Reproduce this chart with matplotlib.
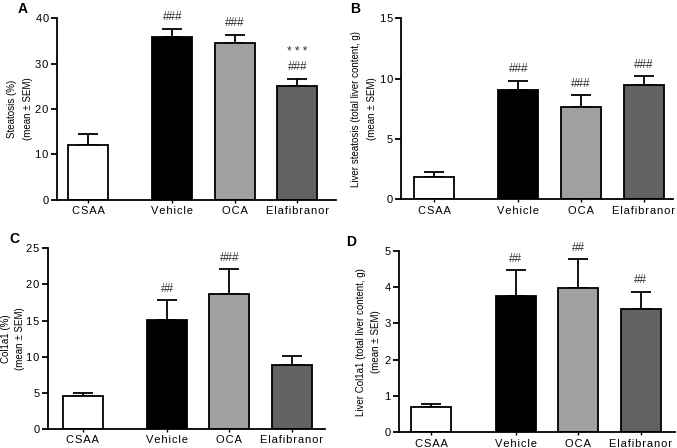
import matplotlib
matplotlib.use("Agg")
import matplotlib.pyplot as plt

plt.rcParams["font.family"] = ["Liberation Sans", "DejaVu Sans"]

groups = ["CSAA", "Vehicle", "OCA", "Elafibranor"]
colors = ["#ffffff", "#000000", "#a0a0a0", "#626262"]

steatosis_pct = [12.0, 35.9, 34.4, 25.0]
steatosis_pct_sem = [2.4, 1.7, 1.9, 1.7]
steatosis_pct_marks = ["", "###", "###", "* * *\n###"]

steatosis_g = [1.87, 9.06, 7.67, 9.47]
steatosis_g_sem = [0.42, 0.77, 0.97, 0.75]
steatosis_g_marks = ["", "###", "###", "###"]

col1a1_pct = [4.6, 15.1, 18.65, 8.9]
col1a1_pct_sem = [0.37, 2.7, 3.45, 1.2]
col1a1_pct_marks = ["", "##", "###", ""]

col1a1_g = [0.71, 3.75, 3.97, 3.40]
col1a1_g_sem = [0.07, 0.72, 0.80, 0.47]
col1a1_g_marks = ["", "##", "##", "##"]

xpos = [0, 1.35, 2.35, 3.35]


def spaced(s):
    return "\u200a".join(s)


def draw_panel(ax, vals, sems, marks, ylim, yticks, ylabel, xlim, letter, letter_x,
               lab_space=1.7, lab_pad=2):
    ax.bar(xpos, vals, width=0.64, color=colors, edgecolor="black", linewidth=1.3, zorder=2)
    ax.errorbar(xpos, vals, yerr=[[0] * 4, sems], fmt="none", ecolor="black",
                elinewidth=1.3, capsize=7, capthick=1.3, zorder=1)
    span = ylim[1] - ylim[0]
    for x, v, s, m in zip(xpos, vals, sems, marks):
        if m:
            ax.text(x, v + s + span * 0.03, m, ha="center", va="bottom",
                    fontsize=8.5, color="#333333", linespacing=1.3)
    ax.set_ylim(*ylim)
    ax.set_xlim(*xlim)
    ax.set_yticks(yticks)
    ax.set_yticklabels([spaced(str(t)) for t in yticks], fontsize=8)
    ax.set_xticks(xpos)
    ax.set_xticklabels([spaced(g) for g in groups], fontsize=8)
    for side in ["top", "right"]:
        ax.spines[side].set_visible(False)
    ax.spines["left"].set_linewidth(1.3)
    ax.spines["bottom"].set_linewidth(1.3)
    ax.tick_params(axis="y", direction="out", length=4, width=1.3, pad=2)
    ax.tick_params(axis="x", direction="out", length=2.5, width=1.0, pad=2)
    ax.set_ylabel(ylabel, fontsize=7, linespacing=lab_space, labelpad=lab_pad)
    ax.text(letter_x, 1.05, letter, transform=ax.transAxes,
            fontsize=10, fontweight="bold", va="center", ha="left")


fig = plt.figure(figsize=(6.77, 4.48), dpi=100)

axA = fig.add_axes([0.0842, 0.5536, 0.412, 0.4062])
draw_panel(axA, steatosis_pct, steatosis_pct_sem, steatosis_pct_marks, (0, 40), [0, 10, 20, 30, 40],
           "Steatosis (%)\n(mean \u00b1 SEM)", (-0.5, 3.97), "A", -0.14)

axB = fig.add_axes([0.593, 0.555, 0.401, 0.404])
draw_panel(axB, steatosis_g, steatosis_g_sem, steatosis_g_marks, (0, 15), [0, 5, 10, 15],
           "Liver steatosis (total liver content, g)\n(mean \u00b1 SEM)", (-0.52, 3.82), "B", -0.19)

axC = fig.add_axes([0.0705, 0.0424, 0.4095, 0.4036])
draw_panel(axC, col1a1_pct, col1a1_pct_sem, col1a1_pct_marks, (0, 25), [0, 5, 10, 15, 20, 25],
           "Col1a1 (%)\n(mean \u00b1 SEM)", (-0.56, 3.88), "C", -0.14,
           lab_space=1.45, lab_pad=1)

axD = fig.add_axes([0.589, 0.035, 0.408, 0.405])
draw_panel(axD, col1a1_g, col1a1_g_sem, col1a1_g_marks, (0, 5), [0, 1, 2, 3, 4, 5],
           "Liver Col1a1 (total liver content, g)\n(mean \u00b1 SEM)", (-0.52, 3.9), "D", -0.19)

fig.savefig("out.png", dpi=100)
plt.close(fig)
